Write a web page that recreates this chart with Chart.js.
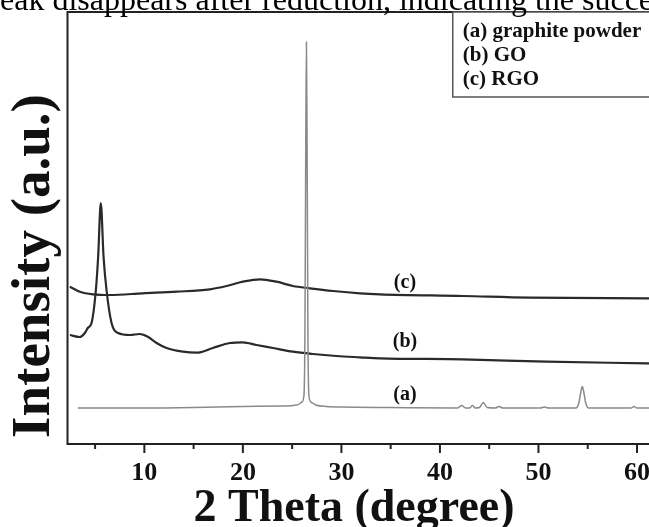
<!DOCTYPE html>
<html>
<head>
<meta charset="utf-8">
<script src="https://cdn.jsdelivr.net/npm/chart.js@4.4.1/dist/chart.umd.min.js"></script>
<style>
  html, body { margin: 0; padding: 0; overflow: hidden; background: #fff; }
  #wrap { position: relative; width: 700px; height: 527px; }
</style>
</head>
<body>
<div id="wrap"><canvas id="xrd" width="700" height="527"></canvas></div>
<script>
// 2 theta axis range and tick labels
const xMin = 2.2;
const xMax = 65;
const tickLabels = [10, 20, 30, 40, 50, 60];

// (a) graphite powder
const aTheta = [3.25, 10, 15, 20, 24, 25.5, 26.0, 26.2, 26.3, 26.38, 26.45, 26.52, 26.6, 26.7, 26.9, 27.4, 28.5, 30, 35,
  41.8, 42.2, 42.6, 43.0, 43.3, 43.6, 44.0, 44.4, 44.8, 45.6, 46.0, 46.4, 50.2, 50.6, 51.0,
  53.8, 54.1, 54.3, 54.45, 54.6, 54.8, 55.1, 59.4, 59.7, 60, 65];
const aIntensity = [36, 36, 36.5, 37.5, 38, 39, 42, 49, 114, 294, 402, 294, 114, 49, 42, 39, 37.5, 37, 36.5,
  36, 38.5, 36, 36, 38.5, 36, 36.5, 41.5, 36.5, 36, 37.5, 36, 36, 37, 36,
  36, 41, 52, 57.5, 52, 41, 36, 36, 37.5, 36, 36];

// (b) GO
const bTheta = [2.44, 3.45, 3.96, 4.26, 4.64, 5.08, 5.31, 5.58, 5.86, 6.16, 6.67, 7.34, 8.53, 9.54, 10.35, 11.24,
  12.25, 13.91, 15.3, 16.95, 18.68, 20.0, 21.39, 23.05, 25.08, 27.1, 29.5, 31.88, 33.9, 42.3, 50.8, 61, 65];
const bIntensity = [109, 107, 111, 116, 121, 154, 187, 241, 187, 154, 121, 111, 109, 110, 107.3, 101,
  96, 92.3, 91.3, 96, 101, 101.7, 99, 96, 92.3, 90, 88, 86.7, 85.7, 84.7, 82.3, 80.7, 80];

// (c) RGO
const cTheta = [2.44, 3.45, 4.8, 6.5, 9.85, 13.27, 16.65, 18.35, 20.0, 21.73, 23.42, 25.08, 26.8, 29.17, 31.88,
  33.9, 42.3, 49.1, 61, 65];
const cIntensity = [157.3, 152.3, 149.7, 149, 150.7, 152.3, 154.7, 158, 162.3, 164.7, 162.3, 158, 155.7, 153, 150.7,
  149.7, 148, 146.3, 145.7, 145.5];

const legendLines = ['(a) graphite powder', '(b) GO', '(c) RGO'];
const curveTags = ['(a)', '(b)', '(c)'];
const tagTheta = [36.45, 36.45, 36.45];
const tagIntensity = [49, 102, 161];

const toPoints = (xs, ys) => xs.map((x, i) => ({ x: x, y: ys[i] }));

const serif = '"Liberation Serif", "Times New Roman", serif';

const decorations = {
  id: 'decorations',
  afterDatasetsDraw(chart) {
    const ctx = chart.ctx;
    const area = chart.chartArea;
    const xs = chart.scales.x;
    const ys = chart.scales.y;
    ctx.save();

    // frame
    ctx.strokeStyle = '#222';
    ctx.lineWidth = 2;
    ctx.strokeRect(area.left, area.top, area.right - area.left, area.bottom - area.top);

    // tick marks on the bottom axis, majors every 10, minors every 5
    for (let v = 5; v <= xMax; v += 5) {
      const px = xs.getPixelForValue(v);
      const len = v % 10 === 0 ? 9 : 5;
      ctx.beginPath();
      ctx.moveTo(px, area.bottom);
      ctx.lineTo(px, area.bottom + len);
      ctx.stroke();
    }

    // curve tags
    ctx.fillStyle = '#111';
    ctx.font = 'bold 20px ' + serif;
    ctx.textAlign = 'center';
    ctx.textBaseline = 'middle';
    curveTags.forEach((t, i) => {
      ctx.fillText(t, xs.getPixelForValue(tagTheta[i]), ys.getPixelForValue(tagIntensity[i]));
    });

    // legend box
    const boxLeft = area.right - 233.5;
    ctx.fillStyle = '#fff';
    ctx.fillRect(boxLeft, area.top, area.right - boxLeft, 85);
    ctx.strokeStyle = '#555';
    ctx.lineWidth = 1.5;
    ctx.strokeRect(boxLeft, area.top, area.right - boxLeft, 85);
    ctx.fillStyle = '#111';
    ctx.font = 'bold 21px ' + serif;
    ctx.textAlign = 'left';
    legendLines.forEach((t, i) => ctx.fillText(t, boxLeft + 10, area.top + 20 + i * 24));

    // axis titles
    ctx.font = 'bold 46px ' + serif;
    ctx.textAlign = 'center';
    ctx.textBaseline = 'alphabetic';
    ctx.fillText('2 Theta (degree)', 354, 521);

    ctx.save();
    ctx.translate(35, 266);
    ctx.rotate(-Math.PI / 2);
    ctx.font = 'bold 55px ' + serif;
    ctx.textBaseline = 'middle';
    ctx.fillText('Intensity (a.u.)', 0, 0);
    ctx.restore();

    // cropped caption line above the figure
    ctx.font = '32px ' + serif;
    ctx.textAlign = 'left';
    ctx.textBaseline = 'alphabetic';
    ctx.fillStyle = '#000';
    ctx.fillText('eak disappears after reduction, indicating the succe', 0, 10);

    ctx.restore();
  }
};

const chart = new Chart(document.getElementById('xrd'), {
  type: 'line',
  data: {
    datasets: [
      { label: '(a) graphite powder', data: toPoints(aTheta, aIntensity), borderColor: '#8a8a8a', borderWidth: 1.5 },
      { label: '(b) GO', data: toPoints(bTheta, bIntensity), borderColor: '#2a2a2a', borderWidth: 2.2 },
      { label: '(c) RGO', data: toPoints(cTheta, cIntensity), borderColor: '#2a2a2a', borderWidth: 2.2 }
    ]
  },
  options: {
    responsive: false,
    animation: false,
    parsing: true,
    elements: {
      point: { radius: 0 },
      line: { cubicInterpolationMode: 'monotone', fill: false }
    },
    layout: { padding: { left: 67.5, top: 12, right: 13.75, bottom: 0 } },
    plugins: { legend: { display: false }, tooltip: { enabled: false } },
    scales: {
      x: {
        type: 'linear',
        min: xMin,
        max: xMax,
        grid: { display: false },
        border: { display: false },
        afterFit: (scale) => { scale.height = 83; },
        ticks: {
          stepSize: 5,
          includeBounds: false,
          autoSkip: false,
          maxRotation: 0,
          padding: 6,
          color: '#111',
          font: { family: serif, size: 26, weight: 'bold' },
          callback: (v) => tickLabels.includes(v) ? String(v) : ''
        }
      },
      y: { type: 'linear', display: false, min: 0, max: 432 }
    }
  },
  plugins: [decorations]
});
</script>
</body>
</html>
